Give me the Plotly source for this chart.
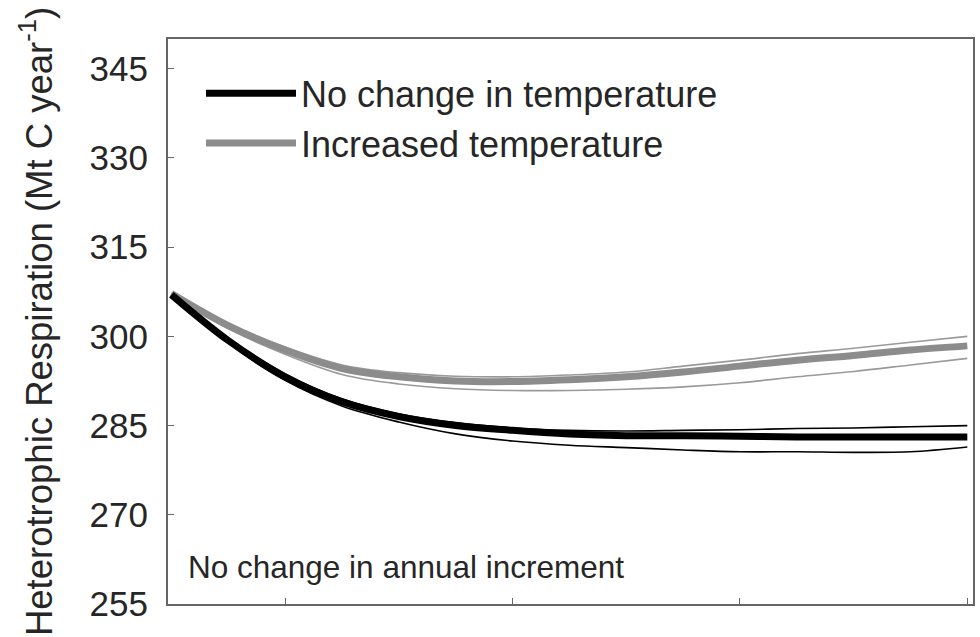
import plotly.graph_objects as go

years = [0, 5, 10, 15, 20, 25, 30, 35, 40, 45, 50, 55, 60, 65, 70]

nochange_mean = [307.0, 299.3, 293.2, 289.0, 286.5, 285.0, 284.2, 283.6, 283.3, 283.3, 283.2, 283.1, 283.1, 283.1, 283.1]
nochange_upper = [307.0, 299.6, 293.7, 289.5, 287.0, 285.5, 284.6, 284.2, 284.1, 284.2, 284.3, 284.5, 284.6, 284.8, 285.0]
nochange_lower = [307.0, 298.9, 292.6, 288.3, 285.6, 283.6, 282.4, 281.7, 281.3, 280.9, 280.6, 280.6, 280.5, 280.6, 281.4]

warm_mean = [307.2, 301.8, 297.7, 294.6, 293.2, 292.5, 292.4, 292.7, 293.2, 294.0, 295.0, 296.0, 296.8, 297.7, 298.4]
warm_upper = [307.3, 302.2, 298.2, 295.2, 293.9, 293.3, 293.2, 293.5, 294.0, 295.0, 296.0, 297.1, 298.0, 299.0, 300.0]
warm_lower = [307.0, 301.3, 297.0, 293.6, 292.0, 291.2, 290.9, 290.9, 291.1, 291.5, 292.2, 293.2, 294.1, 295.2, 296.3]

y_ticks = [255, 270, 285, 300, 315, 330, 345]
x_ticks = [10, 30, 50, 70]

FONT = "Liberation Sans, Arial, sans-serif"
TEXT = "#262626"
BLACK = "#000000"
GRAY = "#8c8c8c"
GRAY_THIN = "#9a9a9a"

fig = go.Figure()

def thin(x, y, color):
    fig.add_trace(go.Scatter(x=x, y=y, mode="lines", showlegend=False,
                             line=dict(color=color, width=1.6, shape="spline"),
                             hoverinfo="skip"))

thin(years, warm_upper, GRAY_THIN)
thin(years, warm_lower, GRAY_THIN)
thin(years, nochange_upper, BLACK)
thin(years, nochange_lower, BLACK)

fig.add_trace(go.Scatter(x=years, y=warm_mean, mode="lines", name="Increased temperature",
                         line=dict(color=GRAY, width=7, shape="spline")))
fig.add_trace(go.Scatter(x=years, y=nochange_mean, mode="lines", name="No change in temperature",
                         line=dict(color=BLACK, width=7, shape="spline")))

fig.update_layout(
    width=980, height=637,
    margin=dict(l=168, r=5, t=39, b=33),
    paper_bgcolor="white", plot_bgcolor="white",
    font=dict(family=FONT, color=TEXT),
    showlegend=True,
    legend=dict(x=0.041, y=0.957, xanchor="left", yanchor="top",
                traceorder="reversed",
                font=dict(size=36, family=FONT, color=TEXT),
                bgcolor="rgba(0,0,0,0)", itemwidth=90, tracegroupgap=0),
    annotations=[dict(x=0.022, y=0.065, xref="paper", yref="paper",
                      xanchor="left", yanchor="middle", showarrow=False,
                      text="No change in annual increment",
                      font=dict(size=31.5, family=FONT, color=TEXT))],
)

fig.update_xaxes(range=[-0.3, 70.5], tickvals=x_ticks, showticklabels=False,
                 ticks="inside", ticklen=6, tickcolor="#666666",
                 showline=True, linecolor="#666666", linewidth=2, mirror=True,
                 showgrid=False, zeroline=False)
fig.update_yaxes(range=[255, 350], tickvals=y_ticks,
                 ticks="inside", ticklen=6, tickcolor="#666666",
                 ticklabelstandoff=11,
                 tickfont=dict(size=35, family=FONT, color=TEXT),
                 showline=True, linecolor="#666666", linewidth=2, mirror=True,
                 showgrid=False, zeroline=False,
                 title=dict(text="Heterotrophic Respiration (Mt C year<sup>-1</sup>)",
                            font=dict(size=36.5, family=FONT, color=TEXT),
                            standoff=26))

fig.write_html("out.html")
